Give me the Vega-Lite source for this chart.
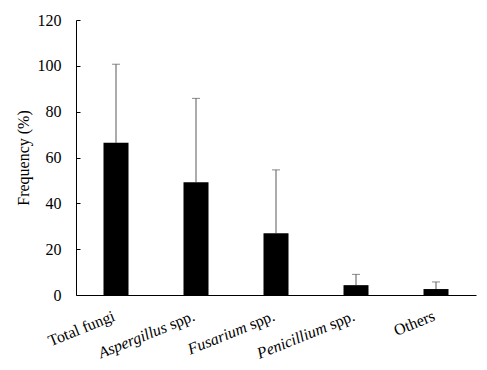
{
  "$schema": "https://vega.github.io/schema/vega-lite/v6.json",
  "width": 400,
  "height": 275,
  "autosize": {"type": "none"},
  "padding": {"left": 76, "top": 20, "right": 11, "bottom": 75},
  "config": {
    "view": {"stroke": null},
    "font": "Liberation Serif",
    "axis": {"labelFont": "Liberation Serif", "titleFont": "Liberation Serif", "labelColor": "black", "titleColor": "black", "domainColor": "black", "tickColor": "black", "grid": false}
  },
  "data": {
    "values": [
      {"cat": "Total fungi", "plain": "Total fungi", "genus": null, "suffix": null, "freq": 66.4, "upper": 100.7},
      {"cat": "Aspergillus spp.", "plain": null, "genus": "Aspergillus", "suffix": "spp.", "freq": 49.2, "upper": 85.8},
      {"cat": "Fusarium spp.", "plain": null, "genus": "Fusarium", "suffix": "spp.", "freq": 27.0, "upper": 54.6},
      {"cat": "Penicillium spp.", "plain": null, "genus": "Penicillium", "suffix": "spp.", "freq": 4.3, "upper": 9.0},
      {"cat": "Others", "plain": "Others", "genus": null, "suffix": null, "freq": 2.6, "upper": 5.7}
    ]
  },
  "encoding": {
    "x": {
      "field": "cat", "type": "nominal", "sort": null,
      "scale": {"paddingInner": 0, "paddingOuter": 0},
      "axis": {"title": null, "labels": false, "ticks": false, "domainColor": "black", "domainWidth": 1}
    }
  },
  "layer": [
    {
      "mark": {"type": "rule", "color": "#595959", "strokeWidth": 1},
      "encoding": {
        "y": {"field": "freq", "type": "quantitative"},
        "y2": {"field": "upper"}
      }
    },
    {
      "mark": {"type": "tick", "color": "#595959", "thickness": 1, "size": 8},
      "encoding": {
        "y": {"field": "upper", "type": "quantitative"}
      }
    },
    {
      "mark": {"type": "bar", "color": "black", "size": 25},
      "encoding": {
        "y": {
          "field": "freq", "type": "quantitative",
          "scale": {"domain": [0, 120], "nice": false},
          "axis": {
            "title": "Frequency (%)", "titleFont": "Liberation Serif", "titleFontSize": 16, "titleFontWeight": "normal", "titlePadding": 6,
            "values": [0, 20, 40, 60, 80, 100, 120],
            "labelFont": "Liberation Serif", "labelFontSize": 16, "labelPadding": 19, "tickSize": -4, "domainWidth": 1
          }
        }
      }
    },
    {
      "transform": [{"filter": "datum.plain != null"}],
      "mark": {"type": "text", "align": "right", "baseline": "alphabetic", "angle": -22, "dx": -9.4, "dy": 23.2, "fontSize": 16, "font": "Liberation Serif", "color": "black"},
      "encoding": {"y": {"datum": 0}, "text": {"field": "plain"}}
    },
    {
      "transform": [{"filter": "datum.suffix != null"}],
      "mark": {"type": "text", "align": "right", "baseline": "alphabetic", "angle": -22, "dx": -9.4, "dy": 23.2, "fontSize": 16, "font": "Liberation Serif", "color": "black"},
      "encoding": {"y": {"datum": 0}, "text": {"field": "suffix"}}
    },
    {
      "transform": [{"filter": "datum.genus != null"}],
      "mark": {"type": "text", "align": "right", "baseline": "alphabetic", "angle": -22, "dx": -39.6, "dy": 23.2, "fontSize": 16, "font": "Liberation Serif", "fontStyle": "italic", "color": "black"},
      "encoding": {"y": {"datum": 0}, "text": {"field": "genus"}}
    }
  ]
}
